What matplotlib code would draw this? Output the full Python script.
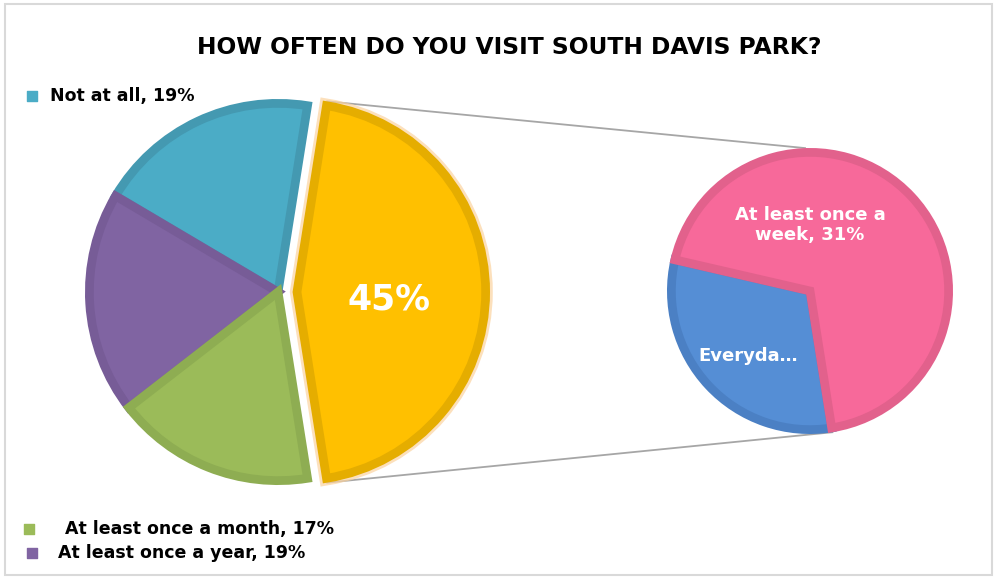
import numpy as np
import matplotlib
matplotlib.use('Agg')
import matplotlib.pyplot as plt
import matplotlib.patheffects as pe
from matplotlib.patches import Rectangle

# Main pie: "Other" (exploded, split out to the small pie) then the rest
main_labels = ["Other", "Not at all", "At least once a year", "At least once a month"]
main_values = [45, 19, 19, 17]
main_colors = ["#FFC000", "#4BACC6", "#8064A2", "#9BBB59"]
main_edges = ["#E5AD00", "#4499B1", "#775C97", "#8EAD52"]

# Secondary pie (breakdown of the 45%)
sub_labels = ["Everyday", "At least once a week"]
sub_values = [14, 31]
sub_colors = ["#558ED5", "#F7699A"]
sub_edges = ["#4B80C4", "#E2618C"]

W, H = 997, 579
fig = plt.figure(figsize=(W / 100, H / 100), dpi=100)
ax = fig.add_axes([0, 0, 1, 1])

FONT = 'DejaVu Sans'
EDGE_LW = 6.3  # points, ~9 px
inset = EDGE_LW / 72 * 100 / 2

# outer frame
fig.patches.append(Rectangle((5 / W, 4 / H), 987 / W, 571 / H, transform=fig.transFigure,
                             fill=False, edgecolor='#D9D9D9', linewidth=1.5))

# main pie (explode is in data units here since radius is in pixels)
c_main = (278, H - 292)
r_main = 193
start_main = -main_values[0] / 100 * 360 / 2
gap = 19
explode = [gap, 0, 0, 0]
wedges, _ = ax.pie(main_values, center=c_main, radius=r_main - inset, startangle=start_main,
                   counterclock=True, explode=explode, colors=main_colors,
                   wedgeprops=dict(linewidth=EDGE_LW, joinstyle='miter'), frame=True)
for w, ec in zip(wedges, main_edges):
    w.set_edgecolor(ec)
wedges[0].set_path_effects([pe.Stroke(linewidth=EDGE_LW + 4, foreground='#FBD3A0', alpha=0.7),
                            pe.Normal()])

# secondary pie
c_sub = (810, H - 291)
r_sub = 143
start_sub = 167
sub_w, _ = ax.pie(sub_values, center=c_sub, radius=r_sub - inset, startangle=start_sub,
                  counterclock=True, colors=sub_colors,
                  wedgeprops=dict(linewidth=EDGE_LW, joinstyle='miter'), frame=True)
for w, ec in zip(sub_w, sub_edges):
    w.set_edgecolor(ec)
ax.set_xlim(0, W)
ax.set_ylim(0, H)
ax.set_aspect('equal')
ax.axis('off')

# connector lines from the exploded wedge to the small pie
half = main_values[0] / 100 * 360 / 2
gx = c_main[0] + gap
top_a = np.deg2rad(half)
bot_a = np.deg2rad(-half)
p_top = (gx + r_main * np.cos(top_a), c_main[1] + r_main * np.sin(top_a))
p_bot = (gx + r_main * np.cos(bot_a), c_main[1] + r_main * np.sin(bot_a))
end_sub = np.deg2rad(start_sub + sub_values[0] / sum(sub_values) * 360)
q_top = (c_sub[0] + r_sub * np.cos(np.deg2rad(92)), c_sub[1] + r_sub * np.sin(np.deg2rad(92)))
q_bot = (c_sub[0] + r_sub * np.cos(end_sub), c_sub[1] + r_sub * np.sin(end_sub))
ax.plot([p_top[0], q_top[0]], [p_top[1], q_top[1]], color='#A6A6A6', lw=1.3, zorder=0)
ax.plot([p_bot[0], q_bot[0]], [p_bot[1], q_bot[1]], color='#A6A6A6', lw=1.3, zorder=0)

# labels
ax.text(389, H - 300, f"{main_values[0]}%", color='white', fontsize=25, fontweight='bold',
        ha='center', va='center', family=FONT)
ax.text(810, H - 225, f"At least once a\nweek, {sub_values[1]}%", color='white', fontsize=13,
        fontweight='bold', ha='center', va='center', linespacing=1.15, family=FONT)
ax.text(748, H - 356, "Everyda\u2026", color='white', fontsize=13, fontweight='bold',
        ha='center', va='center', family=FONT)

# title
ax.text(509, H - 47, "HOW OFTEN DO YOU VISIT SOUTH DAVIS PARK?", fontsize=16.8,
        fontweight='bold', ha='center', va='center', family=FONT)

# legend-like labels for the outer slices
leg = [(main_labels[1], main_values[1], main_colors[1], 32, 96, 50),
       (main_labels[3], main_values[3], main_colors[3], 29, 529, 65),
       (main_labels[2], main_values[2], main_colors[2], 32, 553, 58)]
for lab, val, col, mx, my, tx in leg:
    ax.scatter([mx], [H - my], marker='s', s=60, color=col, zorder=5)
    ax.text(tx, H - my, f"{lab}, {val}%", fontsize=12.5, fontweight='bold',
            ha='left', va='center', family=FONT)

fig.savefig('out.png', dpi=100)
